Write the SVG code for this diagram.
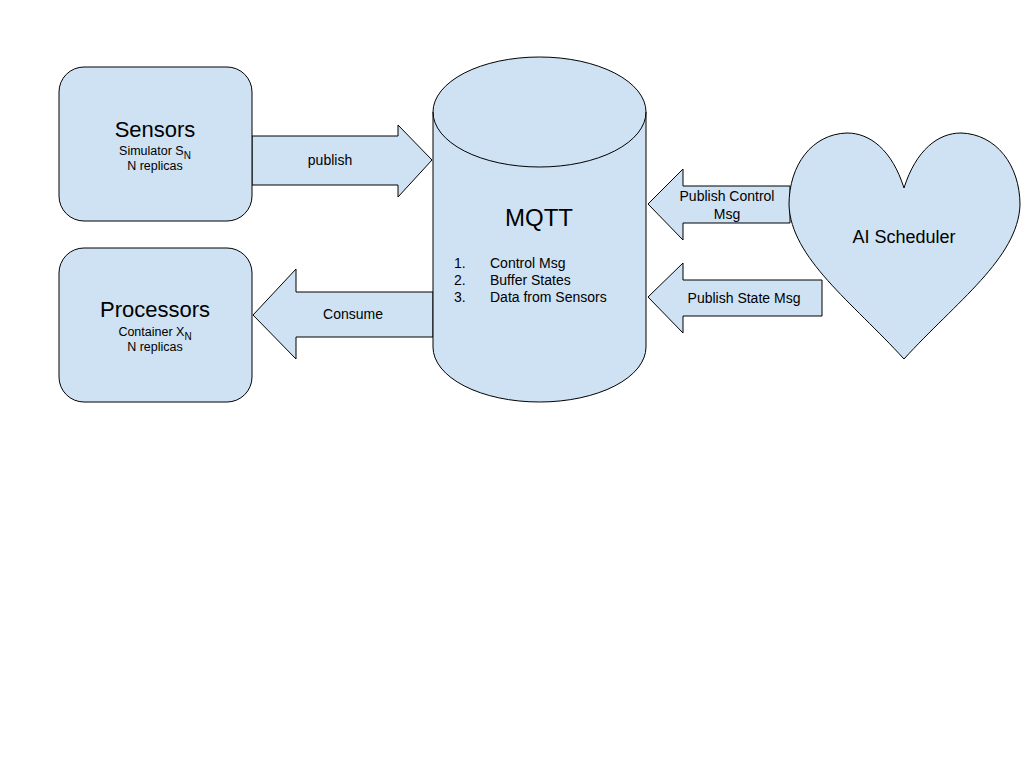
<svg xmlns="http://www.w3.org/2000/svg" width="1024" height="768" viewBox="0 0 1024 768">
<style>
.s{fill:#cfe2f3;stroke:#000;stroke-width:1}
text{font-family:"Liberation Sans",Arial,sans-serif;fill:#000}
.t{text-anchor:middle}
</style>
<rect width="1024" height="768" fill="#fff"/>
<g id="connectors">
<path class="s" d="M252,136 H398 V125 L432,160 L398,197 V185 H252 Z"/>
<path class="s" d="M433,292 H296 V269 L253,315 L296,359 V337 H433 Z"/>
<path class="s" d="M790,186 H683 V169 L648,204 L683,240 V223 H790 Z"/>
<path class="s" d="M822,280 H683 V263 L648,297 L683,333 V316 H822 Z"/>
<text class="t" x="330" y="165" font-size="14">publish</text>
<text class="t" x="353" y="319" font-size="14">Consume</text>
<text class="t" x="727" y="201" font-size="14">Publish Control</text>
<text class="t" x="727" y="219" font-size="14">Msg</text>
<text class="t" x="744" y="303" font-size="14">Publish State Msg</text>
</g>
<g id="sensors">
<rect class="s" x="59" y="67" width="193" height="154" rx="25"/>
<text class="t" x="155" y="137" font-size="22">Sensors</text>
<text class="t" x="155" y="155" font-size="12.5">Simulator S<tspan font-size="10" dy="4">N</tspan></text>
<text class="t" x="155" y="170" font-size="12.5">N replicas</text>
</g>
<g id="processors">
<rect class="s" x="59" y="248" width="193" height="154" rx="25"/>
<text class="t" x="155" y="317" font-size="22">Processors</text>
<text class="t" x="155" y="336" font-size="12.5">Container X<tspan font-size="10" dy="4">N</tspan></text>
<text class="t" x="155" y="351" font-size="12.5">N replicas</text>
</g>
<g id="mqtt">
<path class="s" d="M433,112 A106.5,55 0 0 1 646,112 V347 A106.5,55 0 0 1 433,347 Z"/>
<path fill="none" stroke="#000" stroke-width="1" d="M433,112 A106.5,55 0 0 0 646,112"/>
<text class="t" x="539" y="226" font-size="24">MQTT</text>
<text x="454" y="268" font-size="14">1.</text>
<text x="490" y="268" font-size="14">Control Msg</text>
<text x="454" y="285" font-size="14">2.</text>
<text x="490" y="285" font-size="14">Buffer States</text>
<text x="454" y="302" font-size="14">3.</text>
<text x="490" y="302" font-size="14">Data from Sensors</text>
</g>
<g id="ai-scheduler">
<path class="s" d="M904,188 C892,150 870,133 847,133 C812,134 789,165 789,205 C791,258 852,302 904,359 C956,302 1018,258 1020,205 C1020,165 996,134 961,133 C938,133 916,150 904,188 Z"/>
<text class="t" x="904" y="243" font-size="18">AI Scheduler</text>
</g>
</svg>
